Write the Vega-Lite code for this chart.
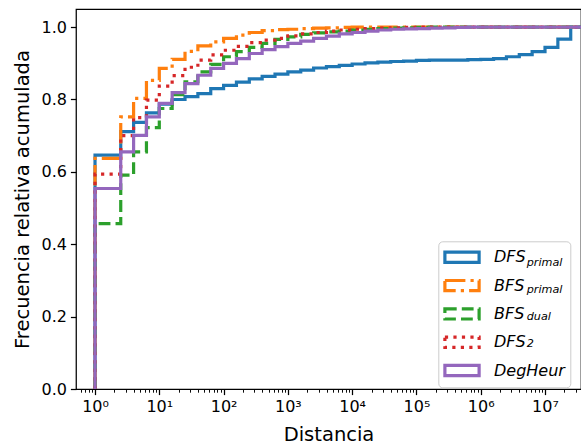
{
  "$schema": "https://vega.github.io/schema/vega-lite/v6.json",
  "width": 505,
  "height": 380,
  "autosize": "none",
  "padding": {"left": 76, "top": 9, "right": 0, "bottom": 55},
  "background": "white",
  "config": {
    "view": {"stroke": "black", "strokeWidth": 1.25},
    "font": "DejaVu Sans",
    "axis": {"labelFont": "DejaVu Sans", "titleFont": "DejaVu Sans", "titleFontWeight": "normal", "domain": false, "grid": false, "tickColor": "black", "labelColor": "black", "titleColor": "black", "labelFontSize": 16, "titleFontSize": 19.5}
  },
  "data": {"values": [
    {"s":"DFS_primal","k":-1,"x":1,"y":0},
    {"s":"DFS_primal","k":0,"x":1,"y":0.646},
    {"s":"DFS_primal","k":1,"x":1.585,"y":0.646},
    {"s":"DFS_primal","k":2,"x":2.512,"y":0.711},
    {"s":"DFS_primal","k":3,"x":3.981,"y":0.737},
    {"s":"DFS_primal","k":4,"x":6.31,"y":0.763},
    {"s":"DFS_primal","k":5,"x":10,"y":0.787},
    {"s":"DFS_primal","k":6,"x":15.85,"y":0.800},
    {"s":"DFS_primal","k":7,"x":25.12,"y":0.808},
    {"s":"DFS_primal","k":8,"x":39.81,"y":0.816},
    {"s":"DFS_primal","k":9,"x":63.1,"y":0.830},
    {"s":"DFS_primal","k":10,"x":100,"y":0.839},
    {"s":"DFS_primal","k":11,"x":158.5,"y":0.848},
    {"s":"DFS_primal","k":12,"x":251.2,"y":0.857},
    {"s":"DFS_primal","k":13,"x":398.1,"y":0.864},
    {"s":"DFS_primal","k":14,"x":631,"y":0.870},
    {"s":"DFS_primal","k":15,"x":1000,"y":0.876},
    {"s":"DFS_primal","k":16,"x":1585,"y":0.881},
    {"s":"DFS_primal","k":17,"x":2512,"y":0.887},
    {"s":"DFS_primal","k":18,"x":3981,"y":0.891},
    {"s":"DFS_primal","k":19,"x":6310,"y":0.894},
    {"s":"DFS_primal","k":20,"x":10000,"y":0.898},
    {"s":"DFS_primal","k":21,"x":15850,"y":0.901},
    {"s":"DFS_primal","k":22,"x":25120,"y":0.903},
    {"s":"DFS_primal","k":23,"x":39810,"y":0.905},
    {"s":"DFS_primal","k":24,"x":63100,"y":0.906},
    {"s":"DFS_primal","k":25,"x":100000,"y":0.908},
    {"s":"DFS_primal","k":26,"x":158500,"y":0.909},
    {"s":"DFS_primal","k":27,"x":251200,"y":0.909},
    {"s":"DFS_primal","k":28,"x":398100,"y":0.909},
    {"s":"DFS_primal","k":29,"x":631000,"y":0.910},
    {"s":"DFS_primal","k":30,"x":1000000,"y":0.911},
    {"s":"DFS_primal","k":31,"x":1585000,"y":0.913},
    {"s":"DFS_primal","k":32,"x":2512000,"y":0.918},
    {"s":"DFS_primal","k":33,"x":3981000,"y":0.924},
    {"s":"DFS_primal","k":34,"x":6310000,"y":0.932},
    {"s":"DFS_primal","k":35,"x":10000000,"y":0.944},
    {"s":"DFS_primal","k":36,"x":15850000,"y":0.967},
    {"s":"DFS_primal","k":37,"x":25120000,"y":1.0},
    {"s":"DFS_primal","k":38,"x":39810000,"y":1.0},
    {"s":"BFS_primal","k":-1,"x":1,"y":0},
    {"s":"BFS_primal","k":0,"x":1,"y":0.637},
    {"s":"BFS_primal","k":1,"x":1.585,"y":0.637},
    {"s":"BFS_primal","k":2,"x":2.512,"y":0.752},
    {"s":"BFS_primal","k":3,"x":3.981,"y":0.803},
    {"s":"BFS_primal","k":4,"x":6.31,"y":0.853},
    {"s":"BFS_primal","k":5,"x":10,"y":0.886},
    {"s":"BFS_primal","k":6,"x":15.85,"y":0.911},
    {"s":"BFS_primal","k":7,"x":25.12,"y":0.933},
    {"s":"BFS_primal","k":8,"x":39.81,"y":0.948},
    {"s":"BFS_primal","k":9,"x":63.1,"y":0.959},
    {"s":"BFS_primal","k":10,"x":100,"y":0.969},
    {"s":"BFS_primal","k":11,"x":158.5,"y":0.978},
    {"s":"BFS_primal","k":12,"x":251.2,"y":0.985},
    {"s":"BFS_primal","k":13,"x":398.1,"y":0.990},
    {"s":"BFS_primal","k":14,"x":631,"y":0.993},
    {"s":"BFS_primal","k":15,"x":1000,"y":0.994},
    {"s":"BFS_primal","k":16,"x":1585,"y":0.996},
    {"s":"BFS_primal","k":17,"x":2512,"y":0.997},
    {"s":"BFS_primal","k":18,"x":3981,"y":0.998},
    {"s":"BFS_primal","k":19,"x":6310,"y":0.999},
    {"s":"BFS_primal","k":20,"x":10000,"y":1.0},
    {"s":"BFS_primal","k":38,"x":39810000,"y":1.0},
    {"s":"BFS_dual","k":-1,"x":1,"y":0},
    {"s":"BFS_dual","k":0,"x":1,"y":0.457},
    {"s":"BFS_dual","k":1,"x":1.585,"y":0.457},
    {"s":"BFS_dual","k":2,"x":2.512,"y":0.591},
    {"s":"BFS_dual","k":3,"x":3.981,"y":0.655},
    {"s":"BFS_dual","k":4,"x":6.31,"y":0.722},
    {"s":"BFS_dual","k":5,"x":10,"y":0.775},
    {"s":"BFS_dual","k":6,"x":15.85,"y":0.813},
    {"s":"BFS_dual","k":7,"x":25.12,"y":0.849},
    {"s":"BFS_dual","k":8,"x":39.81,"y":0.876},
    {"s":"BFS_dual","k":9,"x":63.1,"y":0.897},
    {"s":"BFS_dual","k":10,"x":100,"y":0.918},
    {"s":"BFS_dual","k":11,"x":158.5,"y":0.932},
    {"s":"BFS_dual","k":12,"x":251.2,"y":0.944},
    {"s":"BFS_dual","k":13,"x":398.1,"y":0.955},
    {"s":"BFS_dual","k":14,"x":631,"y":0.966},
    {"s":"BFS_dual","k":15,"x":1000,"y":0.973},
    {"s":"BFS_dual","k":16,"x":1585,"y":0.980},
    {"s":"BFS_dual","k":17,"x":2512,"y":0.984},
    {"s":"BFS_dual","k":18,"x":3981,"y":0.987},
    {"s":"BFS_dual","k":19,"x":6310,"y":0.989},
    {"s":"BFS_dual","k":20,"x":10000,"y":0.992},
    {"s":"BFS_dual","k":21,"x":15850,"y":0.994},
    {"s":"BFS_dual","k":22,"x":25120,"y":0.996},
    {"s":"BFS_dual","k":23,"x":39810,"y":0.997},
    {"s":"BFS_dual","k":24,"x":63100,"y":0.998},
    {"s":"BFS_dual","k":25,"x":100000,"y":0.999},
    {"s":"BFS_dual","k":26,"x":158500,"y":1.0},
    {"s":"BFS_dual","k":38,"x":39810000,"y":1.0},
    {"s":"DFS_2","k":-1,"x":1,"y":0},
    {"s":"DFS_2","k":0,"x":1,"y":0.594},
    {"s":"DFS_2","k":1,"x":1.585,"y":0.594},
    {"s":"DFS_2","k":2,"x":2.512,"y":0.700},
    {"s":"DFS_2","k":3,"x":3.981,"y":0.750},
    {"s":"DFS_2","k":4,"x":6.31,"y":0.798},
    {"s":"DFS_2","k":5,"x":10,"y":0.837},
    {"s":"DFS_2","k":6,"x":15.85,"y":0.866},
    {"s":"DFS_2","k":7,"x":25.12,"y":0.889},
    {"s":"DFS_2","k":8,"x":39.81,"y":0.909},
    {"s":"DFS_2","k":9,"x":63.1,"y":0.923},
    {"s":"DFS_2","k":10,"x":100,"y":0.936},
    {"s":"DFS_2","k":11,"x":158.5,"y":0.947},
    {"s":"DFS_2","k":12,"x":251.2,"y":0.957},
    {"s":"DFS_2","k":13,"x":398.1,"y":0.964},
    {"s":"DFS_2","k":14,"x":631,"y":0.969},
    {"s":"DFS_2","k":15,"x":1000,"y":0.976},
    {"s":"DFS_2","k":16,"x":1585,"y":0.981},
    {"s":"DFS_2","k":17,"x":2512,"y":0.985},
    {"s":"DFS_2","k":18,"x":3981,"y":0.989},
    {"s":"DFS_2","k":19,"x":6310,"y":0.992},
    {"s":"DFS_2","k":20,"x":10000,"y":0.994},
    {"s":"DFS_2","k":21,"x":15850,"y":0.996},
    {"s":"DFS_2","k":22,"x":25120,"y":0.997},
    {"s":"DFS_2","k":23,"x":39810,"y":0.998},
    {"s":"DFS_2","k":24,"x":63100,"y":0.999},
    {"s":"DFS_2","k":25,"x":100000,"y":1.0},
    {"s":"DFS_2","k":38,"x":39810000,"y":1.0},
    {"s":"DegHeur","k":-1,"x":1,"y":0},
    {"s":"DegHeur","k":0,"x":1,"y":0.554},
    {"s":"DegHeur","k":1,"x":1.585,"y":0.554},
    {"s":"DegHeur","k":2,"x":2.512,"y":0.655},
    {"s":"DegHeur","k":3,"x":3.981,"y":0.701},
    {"s":"DegHeur","k":4,"x":6.31,"y":0.752},
    {"s":"DegHeur","k":5,"x":10,"y":0.789},
    {"s":"DegHeur","k":6,"x":15.85,"y":0.819},
    {"s":"DegHeur","k":7,"x":25.12,"y":0.844},
    {"s":"DegHeur","k":8,"x":39.81,"y":0.867},
    {"s":"DegHeur","k":9,"x":63.1,"y":0.886},
    {"s":"DegHeur","k":10,"x":100,"y":0.900},
    {"s":"DegHeur","k":11,"x":158.5,"y":0.913},
    {"s":"DegHeur","k":12,"x":251.2,"y":0.927},
    {"s":"DegHeur","k":13,"x":398.1,"y":0.938},
    {"s":"DegHeur","k":14,"x":631,"y":0.946},
    {"s":"DegHeur","k":15,"x":1000,"y":0.955},
    {"s":"DegHeur","k":16,"x":1585,"y":0.961},
    {"s":"DegHeur","k":17,"x":2512,"y":0.969},
    {"s":"DegHeur","k":18,"x":3981,"y":0.975},
    {"s":"DegHeur","k":19,"x":6310,"y":0.981},
    {"s":"DegHeur","k":20,"x":10000,"y":0.985},
    {"s":"DegHeur","k":21,"x":15850,"y":0.989},
    {"s":"DegHeur","k":22,"x":25120,"y":0.992},
    {"s":"DegHeur","k":23,"x":39810,"y":0.994},
    {"s":"DegHeur","k":24,"x":63100,"y":0.995},
    {"s":"DegHeur","k":25,"x":100000,"y":0.996},
    {"s":"DegHeur","k":26,"x":158500,"y":0.997},
    {"s":"DegHeur","k":27,"x":251200,"y":0.998},
    {"s":"DegHeur","k":28,"x":398100,"y":0.999},
    {"s":"DegHeur","k":29,"x":631000,"y":1.0},
    {"s":"DegHeur","k":38,"x":39810000,"y":1.0}
  ]},
  "mark": {"type": "line", "interpolate": "step-after", "clip": true, "strokeCap": "butt", "strokeJoin": "miter"},
  "encoding": {
    "x": {
      "field": "x", "type": "quantitative",
      "scale": {"type": "log", "domain": [0.506, 36300000], "nice": false},
      "axis": {
        "title": "Distancia",
        "values": [0.6,0.7,0.8,0.9,1,2,3,4,5,6,7,8,9,10,20,30,40,50,60,70,80,90,100,200,300,400,500,600,700,800,900,1000,2000,3000,4000,5000,6000,7000,8000,9000,10000,20000,30000,40000,50000,60000,70000,80000,90000,100000,200000,300000,400000,500000,600000,700000,800000,900000,1000000,2000000,3000000,4000000,5000000,6000000,7000000,8000000,9000000,10000000,20000000,30000000],
        "labelExpr": "(datum.value >= 0.99 && abs(log(datum.value)/LN10 - round(log(datum.value)/LN10)) < 0.001) ? '10' + ['⁰','¹','²','³','⁴','⁵','⁶','⁷'][round(log(datum.value)/LN10)] : ''",
        "labelOverlap": false,
        "labelFlush": false,
        "labelPadding": 4,
        "tickSize": {"condition": {"test": "abs(log(datum.value)/LN10 - round(log(datum.value)/LN10)) < 0.001", "value": 5.6}, "value": 3.2},
        "tickWidth": {"condition": {"test": "abs(log(datum.value)/LN10 - round(log(datum.value)/LN10)) < 0.001", "value": 1.25}, "value": 0.95},
        "titleBaseline": "alphabetic",
        "titleY": 51
      }
    },
    "y": {
      "field": "y", "type": "quantitative",
      "scale": {"domain": [0, 1.05], "nice": false, "zero": false},
      "axis": {
        "title": "Frecuencia relativa acumulada",
        "values": [0, 0.2, 0.4, 0.6, 0.8, 1.0],
        "format": ".1f",
        "tickSize": 5.6,
        "tickWidth": 1.25,
        "labelPadding": 4,
        "titleBaseline": "alphabetic",
        "titleAngle": 270,
        "titleX": -47.5,
        "titleY": 190,
        "titleAlign": "center"
      }
    },
    "color": {
      "field": "s", "type": "nominal",
      "scale": {"domain": ["DFS_primal","BFS_primal","BFS_dual","DFS_2","DegHeur"], "range": ["#1f77b4","#ff7f0e","#2ca02c","#d62728","#9467bd"]},
      "legend": {
        "title": null,
        "orient": "none",
        "legendX": 362.3,
        "legendY": 232.3,
        "padding": 5,
        "rowPadding": 4.3,
        "symbolType": "M-1.85,-0.55H1.85V0.55H-1.85Z",
        "symbolSize": 342,
        "symbolStrokeWidth": 3.2,
        "symbolOffset": 7.7,
        "symbolFillColor": "transparent",
        "labelOffset": 21,
        "labelFont": "DejaVu Sans",
        "labelFontSize": 16,
        "labelFontStyle": "italic",
        "labelColor": "black",
        "labelExpr": "split(datum.label, '_')[0]",
        "strokeColor": "#cccccc",
        "fillColor": "rgba(255,255,255,0.8)",
        "cornerRadius": 4
      }
    },
    "strokeDash": {
      "field": "s", "type": "nominal",
      "scale": {"domain": ["DFS_primal","BFS_primal","BFS_dual","DFS_2","DegHeur"], "range": [[1,0],[20.5,5.1,3.2,5.1],[11.8,5.1],[3.2,5.3],[1,0]]}
    },
    "strokeWidth": {
      "field": "s", "type": "nominal",
      "sort": ["DFS_primal","BFS_primal","BFS_dual","DFS_2","DegHeur"],
      "scale": {"range": [3.2, 3.2]},
      "legend": {
        "title": null,
        "orient": "none",
        "legendX": 439.5,
        "legendY": 248.2,
        "padding": 0,
        "rowPadding": 15.1,
        "symbolSize": 0,
        "symbolOpacity": 0,
        "labelOffset": 0,
        "labelFont": "DejaVu Sans",
        "labelFontSize": 11.2,
        "labelFontStyle": "italic",
        "labelColor": "black",
        "labelExpr": "indexof(datum.label, '_') > 0 ? slice(datum.label, indexof(datum.label, '_') + 1) : ''"
      }
    },
    "order": {"field": "k", "type": "quantitative"}
  }
}
